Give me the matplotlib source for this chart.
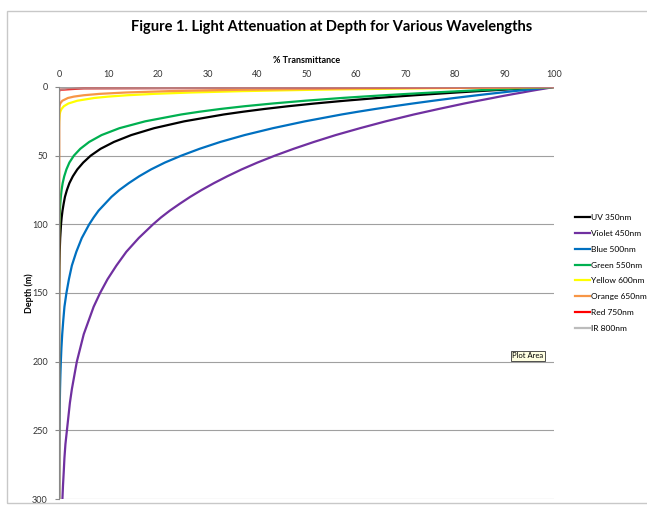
import matplotlib
matplotlib.use('Agg')
import matplotlib.pyplot as plt
from matplotlib.patches import Rectangle

plt.rcParams['font.family'] = ['Lato', 'DejaVu Sans']

# depth (m) at which the transmittance (%) of every series was read
depth = ([0, 1, 2, 3, 4, 5, 6, 7, 8, 10, 12, 14, 16, 18]
         + list(range(20, 101, 5)) + list(range(110, 301, 10)))

uv_350 = ([100, 94.6, 89.6, 84.8, 80.3, 76.0, 71.9, 68.0, 64.4, 57.7, 51.7, 46.3, 41.5, 37.2,
           33.3, 25.3, 19.2, 14.6, 11.1, 8.4, 6.4, 4.9, 3.7, 2.8, 2.1, 1.6, 1.2, 0.94, 0.71, 0.54, 0.41,
           0.24, 0.14, 0.08, 0.05] + [0] * 16)
violet_450 = [100, 98.4, 96.7, 95.1, 93.6, 92.0, 90.5, 89.0, 87.6, 84.7, 81.9, 79.3, 76.7, 74.2,
              71.7, 66.0, 60.8, 55.9, 51.5, 47.4, 43.6, 40.1, 36.9, 34.0, 31.3, 28.8, 26.5, 24.4, 22.4,
              20.6, 19.0,
              16.1, 13.6, 11.6, 9.8, 8.3, 7.0, 6.0, 5.0, 4.3, 3.6, 3.1, 2.6, 2.2, 1.9, 1.6, 1.3, 1.1,
              0.96, 0.81, 0.69]
blue_500 = [100, 97.2, 94.6, 91.9, 89.4, 86.9, 84.5, 82.2, 79.9, 75.6, 71.5, 67.6, 63.9, 60.4,
            57.1, 49.7, 43.2, 37.5, 32.6, 28.4, 24.7, 21.4, 18.6, 16.2, 14.1, 12.2, 10.6, 9.3, 8.0,
            7.0, 6.1,
            4.6, 3.5, 2.6, 2.0, 1.5, 1.1, 0.86, 0.65, 0.49, 0.37, 0.28, 0.21, 0.16, 0.12, 0.09, 0.07,
            0.05, 0.04, 0.03, 0.02]
green_550 = ([100, 93.2, 86.9, 81.1, 75.6, 70.5, 65.7, 61.3, 57.1, 49.7, 43.2, 37.5, 32.6, 28.4,
              24.7, 17.4, 12.2, 8.6, 6.1, 4.3, 3.0, 2.1, 1.5, 1.06, 0.74, 0.52, 0.37, 0.26, 0.18, 0.13,
              0.09] + [0] * 20)
yellow_600 = ([100, 71.9, 51.7, 37.2, 26.7, 19.2, 13.8, 9.9, 7.1, 3.7, 1.9, 0.98, 0.51, 0.26,
               0.14, 0.03] + [0] * 35)
orange_650 = [100, 60.7, 36.8, 22.3, 13.5, 8.2, 5.0, 3.0, 1.8, 0.67, 0.25, 0.09, 0.03, 0.01] + [0] * 37
red_750 = [100, 5.0, 0.25, 0.01] + [0] * 47
ir_800 = [100, 1.8, 0.03] + [0] * 48

series = [
    ('UV 350nm', uv_350, '#000000'),
    ('Violet 450nm', violet_450, '#7030a0'),
    ('Blue 500nm', blue_500, '#0070c0'),
    ('Green 550nm', green_550, '#00b050'),
    ('Yellow 600nm', yellow_600, '#ffff00'),
    ('Orange 650nm', orange_650, '#f79646'),
    ('Red 750nm', red_750, '#ff0000'),
    ('IR 800nm', ir_800, '#a6a6a6'),
]

fig = plt.figure(figsize=(6.47, 5.07), dpi=100)
ax = fig.add_axes([59 / 647, 8 / 507, 495 / 647, 412 / 507])

for name, vals, col in series:
    alpha = 0.75 if name.startswith('IR') else 1.0
    ax.plot(vals, depth, color=col, lw=1.6, label=name, alpha=alpha)

ax.set_xlim(0, 100)
ax.set_ylim(300, 0)
ax.set_xticks(range(0, 101, 10))
ax.set_yticks(range(0, 301, 50))
ax.xaxis.tick_top()
ax.xaxis.set_label_position('top')
ax.tick_params(axis='x', length=0, labelsize=6.5, pad=6, colors='#333333')
ax.tick_params(axis='y', length=3, labelsize=6.5, pad=5, colors='#888888', labelcolor='#333333')
ax.yaxis.grid(True, color='#a0a0a0', lw=0.8)
ax.set_axisbelow(True)
for s in ['right', 'bottom', 'top']:
    ax.spines[s].set_visible(False)
ax.spines['left'].set_color('#888888')

ax.set_xlabel('% Transmittance', fontsize=6.5, fontweight='bold', labelpad=5)
ax.set_ylabel('Depth (m)', fontsize=6.5, fontweight='bold', labelpad=-1)

fig.suptitle('Figure 1. Light Attenuation at Depth for Various Wavelengths',
             x=332 / 647, y=1 - 27 / 507, va='center', fontsize=10.5, fontweight='bold')

leg = ax.legend(loc='upper left', bbox_to_anchor=(572 / 647, 1 - 211 / 507),
                bbox_transform=fig.transFigure, frameon=False, fontsize=6,
                handlelength=1.8, handletextpad=0.1, labelspacing=1.05, borderaxespad=0)

# chart border and tooltip
fig.patches.append(Rectangle((7 / 647, 4 / 507), 700 / 647, 492 / 507, transform=fig.transFigure,
                             fill=False, ec='#c8c8c8', lw=1))
fig.text(528 / 647, 1 - 356 / 507, 'Plot Area', fontsize=5.5, ha='center', va='center',
         bbox=dict(boxstyle='square,pad=0.25', fc='#ffffe1', ec='#333333', lw=0.6))

fig.savefig('out.png', dpi=100)
